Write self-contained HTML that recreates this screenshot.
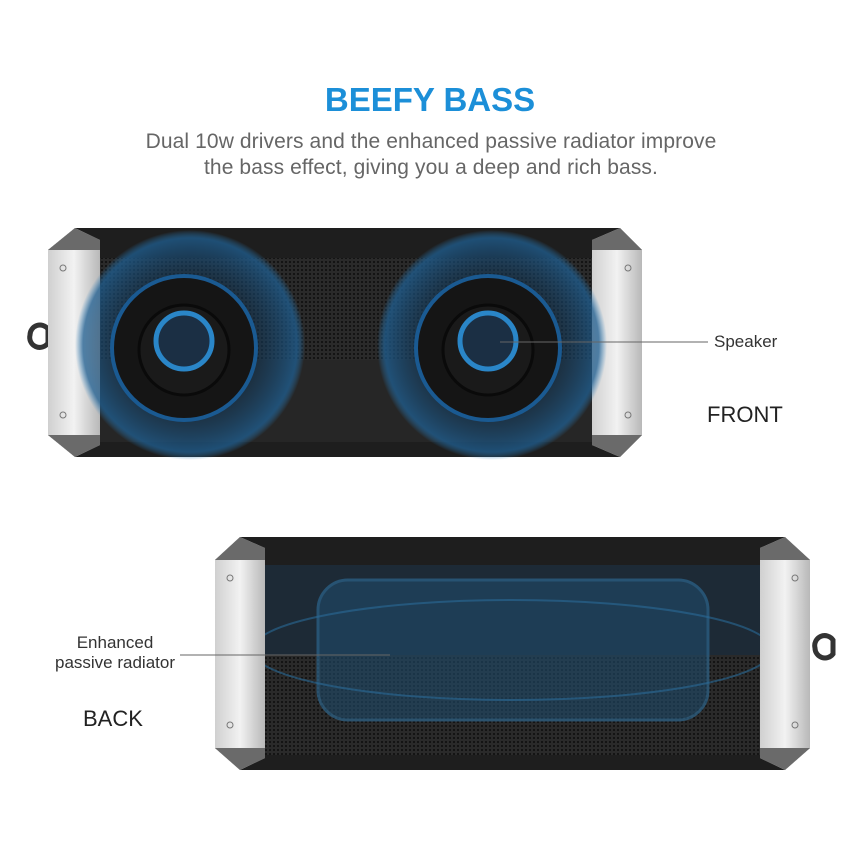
<!DOCTYPE html>
<html><head><style>
body{margin:0;width:850px;height:850px;background:#fff;position:relative;overflow:hidden;font-family:"Liberation Sans",sans-serif;}
.t{position:absolute;white-space:nowrap;}
</style></head><body>
<div class="t" style="left:0;width:860px;text-align:center;top:81px;font-size:33px;font-weight:bold;color:#1c8fd8;">BEEFY BASS</div>
<div class="t" style="left:0;width:862px;text-align:center;top:129px;font-size:21px;color:#666;line-height:26px;letter-spacing:0.1px;">Dual 10w drivers and the enhanced passive radiator improve<br>the bass effect, giving you a deep and rich bass.</div>

<svg width="850" height="850" style="position:absolute;left:0;top:0">
<defs>
<radialGradient id="glow" cx="50%" cy="50%" r="50%">
<stop offset="0.55" stop-color="#12324e" stop-opacity="0.5"/>
<stop offset="0.93" stop-color="#1f5f92" stop-opacity="0.75"/>
<stop offset="1" stop-color="#2a80c0" stop-opacity="0"/>
</radialGradient>
<linearGradient id="sil" x1="0" x2="1"><stop offset="0" stop-color="#d0d0d0"/><stop offset="0.5" stop-color="#f2f2f2"/><stop offset="1" stop-color="#b8b8b8"/></linearGradient>
<pattern id="mesh" width="4" height="4" patternUnits="userSpaceOnUse"><rect width="4" height="4" fill="#2a2a2a"/><circle cx="2" cy="2" r="1" fill="#0c0c0c"/></pattern>
</defs>
<path d="M30 335 a10 10 0 0 1 18 -6 v14 a10 10 0 0 1 -18 -8z" fill="none" stroke="#333" stroke-width="5"/>
<polygon points="75,228 620,228 642,250 642,435 620,457 75,457 48,435 48,250" fill="#1e1e1e"/>
<rect x="100" y="258" width="492" height="102" fill="url(#mesh)"/>
<rect x="100" y="360" width="492" height="82" fill="#262626"/>
<polygon points="48,250 75,228 100,240 100,445 75,457 48,435" fill="url(#sil)"/>
<polygon points="642,250 620,228 592,240 592,445 620,457 642,435" fill="url(#sil)"/>
<polygon points="48,250 75,228 100,240 100,250" fill="#6a6a6a"/>
<polygon points="48,435 75,457 100,445 100,435" fill="#6a6a6a"/>
<polygon points="642,250 620,228 592,240 592,250" fill="#6a6a6a"/>
<polygon points="642,435 620,457 592,445 592,435" fill="#6a6a6a"/>
<circle cx="63" cy="268" r="3" fill="none" stroke="#777"/><circle cx="63" cy="415" r="3" fill="none" stroke="#777"/>
<circle cx="628" cy="268" r="3" fill="none" stroke="#777"/><circle cx="628" cy="415" r="3" fill="none" stroke="#777"/>
<g>
<circle cx="190" cy="345" r="115" fill="url(#glow)"/>
<circle cx="184" cy="348" r="72" fill="#151515" stroke="#1a5a92" stroke-width="4"/>
<circle cx="184" cy="350" r="45" fill="#1a1a1a" stroke="#0a0a0a" stroke-width="3"/>
<circle cx="184" cy="341" r="28" fill="#1b2f44" stroke="#2a86c8" stroke-width="5"/>
</g>
<g>
<circle cx="492" cy="345" r="115" fill="url(#glow)"/>
<circle cx="488" cy="348" r="72" fill="#151515" stroke="#1a5a92" stroke-width="4"/>
<circle cx="488" cy="350" r="45" fill="#1a1a1a" stroke="#0a0a0a" stroke-width="3"/>
<circle cx="488" cy="341" r="28" fill="#1b2f44" stroke="#2a86c8" stroke-width="5"/>
</g>
<line x1="500" y1="342" x2="708" y2="342" stroke="#666" stroke-width="1"/>
<path d="M815 648 a10 10 0 0 0 18 6 v-14 a10 10 0 0 0 -18 8z" fill="none" stroke="#333" stroke-width="5"/>
<polygon points="240,537 785,537 810,560 810,748 785,770 240,770 215,748 215,560" fill="#1e1e1e"/>
<rect x="265" y="565" width="495" height="90" fill="#1d2a36"/>
<rect x="265" y="655" width="495" height="100" fill="url(#mesh)"/>
<rect x="318" y="580" width="390" height="140" rx="30" fill="#1f4a6a" opacity="0.6" stroke="#2e6f9c" stroke-width="3"/>
<ellipse cx="512" cy="650" rx="260" ry="50" fill="none" stroke="#2a6a98" stroke-width="2" opacity="0.6"/>
<polygon points="215,560 240,537 265,548 265,758 240,770 215,748" fill="url(#sil)"/>
<polygon points="810,560 785,537 760,548 760,758 785,770 810,748" fill="url(#sil)"/>
<polygon points="215,560 240,537 265,548 265,560" fill="#6a6a6a"/>
<polygon points="215,748 240,770 265,758 265,748" fill="#6a6a6a"/>
<polygon points="810,560 785,537 760,548 760,560" fill="#6a6a6a"/>
<polygon points="810,748 785,770 760,758 760,748" fill="#6a6a6a"/>
<circle cx="230" cy="578" r="3" fill="none" stroke="#777"/><circle cx="230" cy="725" r="3" fill="none" stroke="#777"/>
<circle cx="795" cy="578" r="3" fill="none" stroke="#777"/><circle cx="795" cy="725" r="3" fill="none" stroke="#777"/>
<line x1="180" y1="655" x2="390" y2="655" stroke="#666" stroke-width="1"/>
</svg>

<div class="t" style="left:714px;top:332px;font-size:17px;color:#333;">Speaker</div>
<div class="t" style="left:707px;top:402px;font-size:22px;color:#222;">FRONT</div>
<div class="t" style="left:40px;width:150px;text-align:center;top:633px;font-size:17px;color:#333;line-height:20px;">Enhanced<br>passive radiator</div>
<div class="t" style="left:83px;top:706px;font-size:22px;color:#222;">BACK</div>
</body></html>
